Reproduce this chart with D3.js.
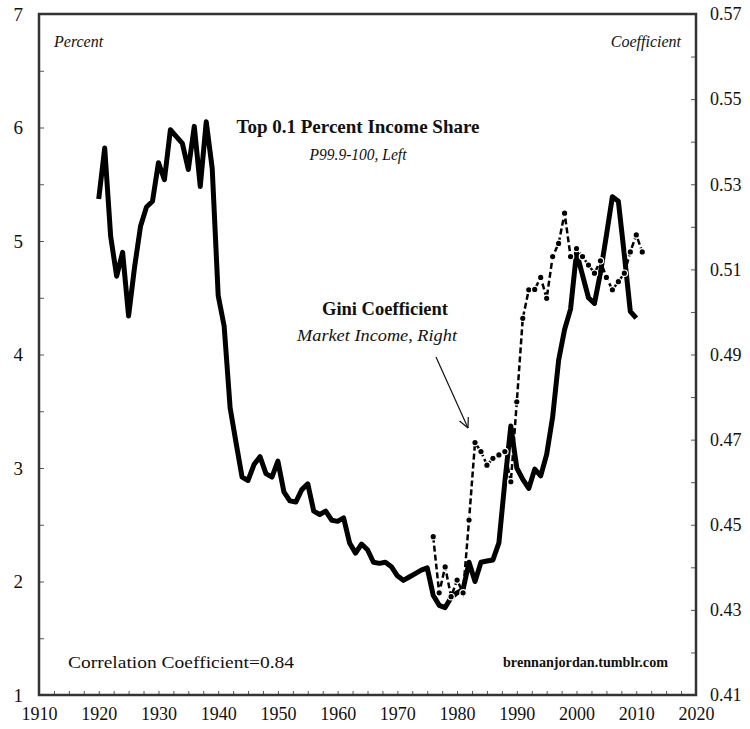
<!DOCTYPE html>
<html>
<head>
<meta charset="utf-8">
<script src="https://cdn.jsdelivr.net/npm/d3@7"></script>
<style>
  body { margin: 0; background: #fff; }
  svg text { font-family: "Liberation Serif", "DejaVu Serif", serif; fill: #111; }
</style>
</head>
<body>
<div id="chart"></div>
<script>
// top 0.1% income share, percent (left axis)
const shareYears = d3.range(1920, 2011);
const shareValues = [
  5.37, 5.82, 5.04, 4.69, 4.90, 4.34, 4.77, 5.13, 5.30, 5.35,
  5.69, 5.54, 5.98, 5.92, 5.86, 5.63, 6.01, 5.48, 6.05, 5.64,
  4.52, 4.25, 3.53, 3.22, 2.92, 2.89, 3.03, 3.10, 2.95, 2.92,
  3.06, 2.79, 2.71, 2.70, 2.81, 2.86, 2.62, 2.59, 2.62, 2.54,
  2.53, 2.56, 2.34, 2.25, 2.33, 2.28, 2.17, 2.16, 2.17, 2.13,
  2.05, 2.01, 2.04, 2.07, 2.10, 2.12, 1.88, 1.79, 1.77, 1.86,
  1.90, 1.93, 2.17, 2.00, 2.17, 2.18, 2.19, 2.34, 2.88, 3.37,
  3.00, 2.90, 2.82, 2.99, 2.93, 3.12, 3.45, 3.95, 4.22, 4.40,
  4.90, 4.70, 4.50, 4.45, 4.72, 5.05, 5.39, 5.35, 4.88, 4.38,
  4.32
];

// Gini coefficient, market income (right axis)
const giniYears = d3.range(1976, 2012);
const giniValues = [
  0.4472, 0.4340, 0.4401, 0.4331, 0.4370, 0.4340, 0.4511, 0.4693, 0.4672, 0.4640,
  0.4656, 0.4664, 0.4672, 0.4601, 0.4789, 0.4985, 0.5052, 0.5053, 0.5081, 0.5032,
  0.5130, 0.5161, 0.5232, 0.5130, 0.5149, 0.5130, 0.5110, 0.5091, 0.5120, 0.5081,
  0.5052, 0.5071, 0.5091, 0.5141, 0.5181, 0.5141
];

// tick labels
const leftTicks = [1, 2, 3, 4, 5, 6, 7];
const rightTicks = [0.41, 0.43, 0.45, 0.47, 0.49, 0.51, 0.53, 0.55, 0.57];
const yearTicks = [1910, 1920, 1930, 1940, 1950, 1960, 1970, 1980, 1990, 2000, 2010, 2020];

const width = 750, height = 729;
const plot = {left: 39, right: 696, top: 14, bottom: 695};

const svg = d3.select("#chart")
    .append("svg")
    .attr("width", width)
    .attr("height", height);

svg.append("rect").attr("width", width).attr("height", height).attr("fill", "#fff");

const x = d3.scaleLinear().domain([1910, 2020]).range([plot.left, plot.right]);
const yL = d3.scaleLinear().domain([1, 7]).range([plot.bottom, plot.top]);
const yR = d3.scaleLinear().domain([0.41, 0.57]).range([plot.bottom, plot.top]);

// minor + major ticks, pointing inwards
const leftAxis = d3.axisLeft(yL)
    .tickValues(d3.range(1, 7.01, 0.5))
    .tickSize(-5)
    .tickPadding(16)
    .tickFormat(d => leftTicks.includes(d) ? d : "");

const rightAxis = d3.axisRight(yR)
    .tickValues(d3.range(0, 17).map(i => +(0.41 + i * 0.01).toFixed(2)))
    .tickSize(-5)
    .tickPadding(14)
    .tickFormat(d => rightTicks.includes(d) ? d3.format(".2f")(d) : "");

const bottomAxis = d3.axisBottom(x)
    .tickValues(d3.range(0, 45).map(i => 1910 + i * 2.5))
    .tickSize(-4)
    .tickPadding(12)
    .tickFormat(d => yearTicks.includes(d) ? d : "");

function styleAxis(g, size) {
  g.select(".domain").remove();
  g.selectAll(".tick line").attr("stroke", "#555").attr("stroke-width", 1);
  g.selectAll(".tick text")
    .attr("font-size", size)
    .attr("fill", "#111")
    .style("font-family", "'Liberation Serif', serif");
}

svg.append("g")
    .attr("transform", `translate(${plot.left},0)`)
    .call(leftAxis)
    .call(g => styleAxis(g, 19));

svg.append("g")
    .attr("transform", `translate(${plot.right},0)`)
    .call(rightAxis)
    .call(g => styleAxis(g, 18));

svg.append("g")
    .attr("transform", `translate(0,${plot.bottom})`)
    .call(bottomAxis)
    .call(g => styleAxis(g, 18));

// frame
svg.append("rect")
    .attr("x", plot.left)
    .attr("y", plot.top)
    .attr("width", plot.right - plot.left)
    .attr("height", plot.bottom - plot.top)
    .attr("fill", "none")
    .attr("stroke", "#333")
    .attr("stroke-width", 2.5);

// income share line
const shareData = shareYears.map((yr, i) => ({year: yr, value: shareValues[i]}));
const giniData = giniYears.map((yr, i) => ({year: yr, value: giniValues[i]}));

svg.append("path")
    .datum(shareData)
    .attr("fill", "none")
    .attr("stroke", "#000")
    .attr("stroke-width", 5)
    .attr("stroke-linejoin", "round")
    .attr("d", d3.line().x(d => x(d.year)).y(d => yL(d.value)));

// gini dashed line with dots
svg.append("path")
    .datum(giniData)
    .attr("fill", "none")
    .attr("stroke", "#000")
    .attr("stroke-width", 2.5)
    .attr("stroke-dasharray", "6,3")
    .attr("d", d3.line().x(d => x(d.year)).y(d => yR(d.value)));

svg.selectAll(".gdot")
    .data(giniData)
    .enter()
    .append("circle")
    .attr("class", "gdot")
    .attr("cx", d => x(d.year))
    .attr("cy", d => yR(d.value))
    .attr("r", 3.2)
    .attr("fill", "#000")
    .attr("stroke", "#fff")
    .attr("stroke-width", 1.2);

// labels
function label(txt, px, py, opts) {
  const t = svg.append("text")
      .attr("x", px).attr("y", py)
      .attr("text-anchor", opts.anchor || "start")
      .attr("font-size", opts.size)
      .attr("font-weight", opts.bold ? "bold" : "normal")
      .attr("font-style", opts.italic ? "italic" : "normal")
      .text(txt);
  if (opts.len) t.attr("textLength", opts.len).attr("lengthAdjust", "spacingAndGlyphs");
  return t;
}

label("Percent", 54, 47, {size: 16, italic: true});
label("Coefficient", 681, 47, {size: 16, italic: true, anchor: "end"});
label("Top 0.1 Percent Income Share", 358, 133, {size: 19, bold: true, anchor: "middle", len: 243});
label("P99.9-100, Left", 358, 160, {size: 16, italic: true, anchor: "middle", len: 97});
label("Gini Coefficient", 385, 315, {size: 19, bold: true, anchor: "middle", len: 126});
label("Market Income, Right", 377, 341, {size: 17, italic: true, anchor: "middle", len: 160});
label("Correlation Coefficient=0.84", 68, 668, {size: 17, len: 226});
label("brennanjordan.tumblr.com", 503, 667, {size: 14, bold: true, len: 165});

// arrow pointing at the gini line
const a0 = [436, 357], a1 = [468, 428];
svg.append("line")
    .attr("x1", a0[0]).attr("y1", a0[1])
    .attr("x2", a1[0]).attr("y2", a1[1])
    .attr("stroke", "#111").attr("stroke-width", 1.2);
const ang = Math.atan2(a1[1] - a0[1], a1[0] - a0[0]);
[-0.45, 0.45].forEach(da => {
  svg.append("line")
      .attr("x1", a1[0]).attr("y1", a1[1])
      .attr("x2", a1[0] - 11 * Math.cos(ang + da))
      .attr("y2", a1[1] - 11 * Math.sin(ang + da))
      .attr("stroke", "#111").attr("stroke-width", 1.2);
});
</script>
</body>
</html>
